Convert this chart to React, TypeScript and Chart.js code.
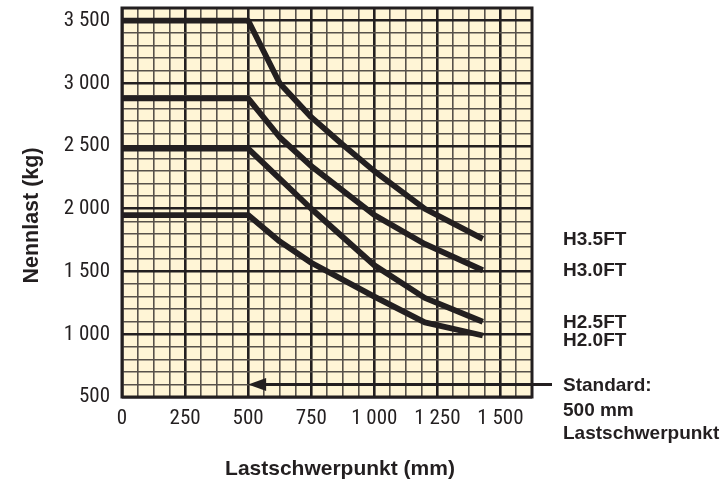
import React, { useEffect, useRef } from 'react';
import { Chart, registerables } from 'chart.js';

Chart.register(...registerables);

// X axis: load centre (mm); Y axis: rated load (kg)
const xMin = 0;
const xMax = 1625;
const xStep = 62.5;
const xMajor = 250;
const yMin = 500;
const yMax = 3600;
const yStep = 100;
const yMajor = 500;

const seriesNames = ['H3.5FT', 'H3.0FT', 'H2.5FT', 'H2.0FT'];

const h35X = [0, 500, 625, 750, 875, 1000, 1200, 1430];
const h35Y = [3500, 3500, 3000, 2730, 2510, 2300, 2000, 1760];

const h30X = [0, 500, 625, 750, 1000, 1200, 1430];
const h30Y = [2880, 2880, 2570, 2340, 1950, 1720, 1510];

const h25X = [0, 500, 750, 1000, 1200, 1430];
const h25Y = [2480, 2480, 2000, 1550, 1290, 1100];

const h20X = [0, 500, 625, 750, 1000, 1200, 1430];
const h20Y = [1950, 1950, 1740, 1570, 1300, 1095, 990];

// right-hand labels anchored at these load values
const seriesLabelY = [1750, 1505, 1095, 950];

const standardLines = ['Standard:', '500 mm', 'Lastschwerpunkt'];
const standardLabelY = [590, 393, 207];
const standardLoadCenter = 500;
const arrowLoad = 600;

const xTitle = 'Lastschwerpunkt (mm)';
const yTitle = 'Nennlast (kg)';

const INK = '#231f20';
const MINOR = '#57514a';
const PAPER = '#fff5d6';
const NARROW = "'Liberation Sans Narrow', 'Roboto Condensed', 'DejaVu Sans Condensed', sans-serif";
const BOLD = "'Liberation Sans', Arial, sans-serif";

function fmt(v: number): string {
  if (v >= 1000) {
    const th = Math.floor(v / 1000);
    const rest = String(v % 1000).padStart(3, '0');
    return `${th} ${rest}`;
  }
  return String(v);
}

function isMultiple(v: number, m: number) {
  const r = Math.abs(v % m);
  return r < 1e-6 || Math.abs(r - m) < 1e-6;
}

function toPoints(xs: number[], ys: number[]) {
  return xs.map((x, i) => ({ x, y: ys[i] }));
}

const decorPlugin = {
  id: 'decor',
  beforeDraw(chart: any) {
    const { ctx, chartArea: a } = chart;
    ctx.save();
    ctx.fillStyle = PAPER;
    ctx.fillRect(a.left, a.top, a.right - a.left, a.bottom - a.top);
    ctx.restore();
  },
  beforeDatasetsDraw(chart: any) {
    const { ctx, chartArea: a } = chart;
    ctx.save();
    ctx.strokeStyle = INK;
    ctx.lineWidth = 3;
    ctx.strokeRect(a.left, a.top, a.right - a.left, a.bottom - a.top);
    ctx.restore();
  },
  afterDatasetsDraw(chart: any) {
    const { ctx, chartArea: a, scales } = chart;
    const xs = scales.x;
    const ys = scales.y;
    ctx.save();
    // arrow for standard load centre
    const tipX = xs.getPixelForValue(standardLoadCenter);
    const ay = ys.getPixelForValue(arrowLoad);
    ctx.strokeStyle = INK;
    ctx.fillStyle = INK;
    ctx.lineWidth = 3;
    ctx.beginPath();
    ctx.moveTo(tipX + 14, ay);
    ctx.lineTo(a.right + 20, ay);
    ctx.stroke();
    ctx.beginPath();
    ctx.moveTo(tipX, ay);
    ctx.lineTo(tipX + 18, ay - 6.5);
    ctx.lineTo(tipX + 18, ay + 6.5);
    ctx.closePath();
    ctx.fill();

    // labels
    ctx.font = `bold 19px ${BOLD}`;
    ctx.textAlign = 'left';
    ctx.textBaseline = 'middle';
    const lx = a.right + 31;
    seriesNames.forEach((n, i) => {
      ctx.fillText(n, lx, ys.getPixelForValue(seriesLabelY[i]));
    });
    standardLines.forEach((t, i) => {
      ctx.fillText(t, lx, ys.getPixelForValue(standardLabelY[i]));
    });

    // axis titles
    ctx.font = `bold 21px ${BOLD}`;
    ctx.textAlign = 'center';
    ctx.fillText(xTitle, (a.left + a.right) / 2 + 13, a.bottom + 72);
    ctx.save();
    ctx.translate(32, (a.top + a.bottom) / 2 + 13);
    ctx.rotate(-Math.PI / 2);
    ctx.font = `bold 21.5px ${BOLD}`;
    ctx.fillText(yTitle, 0, 0);
    ctx.restore();
    ctx.restore();
  },
};

export default function App() {
  const ref = useRef<HTMLCanvasElement | null>(null);

  useEffect(() => {
    if (!ref.current) return;
    const allX = [h35X, h30X, h25X, h20X];
    const allY = [h35Y, h30Y, h25Y, h20Y];
    const chart = new Chart(ref.current, {
      type: 'line',
      data: {
        datasets: seriesNames.map((name, i) => ({
          label: name,
          data: toPoints(allX[i], allY[i]),
          borderColor: INK,
          borderWidth: 5.8,
          pointRadius: 0,
          tension: 0,
          fill: false,
          borderJoinStyle: 'round' as const,
          borderCapStyle: 'butt' as const,
          clip: 6,
        })),
      },
      options: {
        responsive: false,
        animation: false,
        events: [],
        layout: { padding: { left: 0, right: 193, top: 8, bottom: 0 } },
        plugins: {
          legend: { display: false },
          tooltip: { enabled: false },
        },
        scales: {
          x: {
            type: 'linear',
            min: xMin,
            max: xMax,
            afterFit: (s: any) => {
              s.height = 87;
              s.paddingLeft = 0;
              s.paddingRight = 0;
              s.paddingTop = 0;
              s.paddingBottom = 0;
            },
            ticks: {
              stepSize: xStep,
              autoSkip: false,
              maxRotation: 0,
              padding: 9,
              color: INK,
              font: { family: NARROW, size: 21 },
              callback: (v: any) => (isMultiple(Number(v), xMajor) && Number(v) <= 1500 ? fmt(Number(v)) : ''),
            },
            grid: {
              drawTicks: false,
              color: (c: any) => (c.tick && isMultiple(c.tick.value, xMajor) ? INK : MINOR),
              lineWidth: (c: any) => (c.tick && isMultiple(c.tick.value, xMajor) ? 2.6 : 1.6),
            },
            border: { display: false },
            title: { display: false },
          },
          y: {
            type: 'linear',
            min: yMin,
            max: yMax,
            afterFit: (s: any) => {
              s.width = 122;
              s.paddingLeft = 0;
              s.paddingRight = 0;
              s.paddingTop = 0;
              s.paddingBottom = 0;
            },
            ticks: {
              stepSize: yStep,
              autoSkip: false,
              padding: 12,
              color: INK,
              font: { family: NARROW, size: 21 },
              callback: (v: any) => (isMultiple(Number(v), yMajor) ? fmt(Number(v)) : ''),
            },
            grid: {
              drawTicks: false,
              color: (c: any) => (c.tick && isMultiple(c.tick.value, yMajor) ? INK : MINOR),
              lineWidth: (c: any) => (c.tick && isMultiple(c.tick.value, yMajor) ? 2.6 : 1.6),
            },
            border: { display: false },
            title: { display: false },
          },
        },
      },
      plugins: [decorPlugin],
    });
    return () => chart.destroy();
  }, []);

  return (
    <div style={{ position: 'absolute', left: 0, top: 0, width: 725, height: 484, background: '#fff' }}>
      <canvas ref={ref} width={725} height={484} style={{ display: 'block' }} />
    </div>
  );
}
